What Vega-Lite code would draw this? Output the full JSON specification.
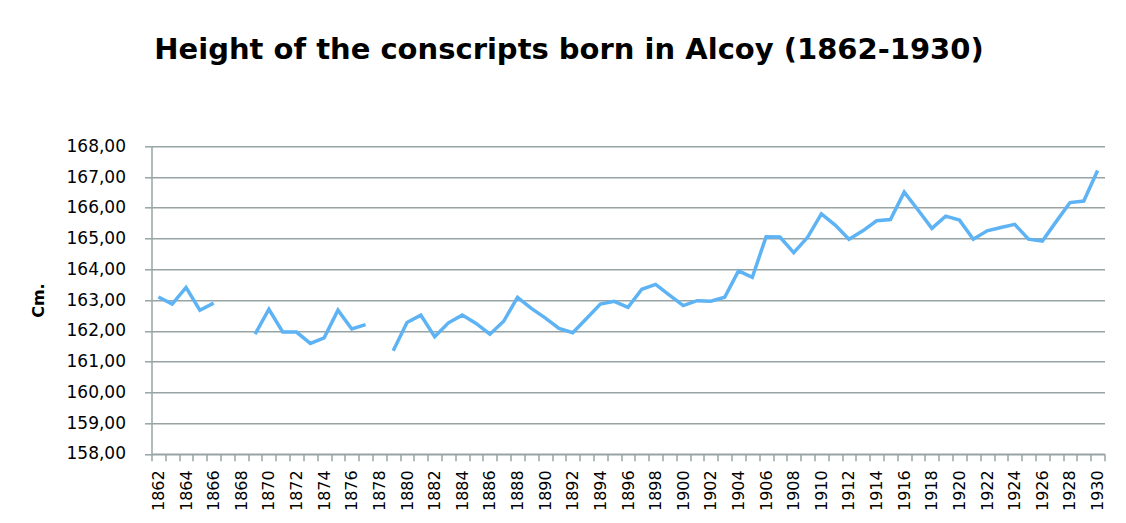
{
  "$schema": "https://vega.github.io/schema/vega-lite/v6.json",
  "autosize": "none",
  "width": 953,
  "height": 307.5,
  "padding": {"left": 151.5, "top": 146.3, "right": 21.5, "bottom": 69.2},
  "background": "white",
  "title": {
    "text": "Height of the conscripts born in Alcoy (1862-1930)",
    "font": "DejaVu Sans",
    "fontSize": 29,
    "fontWeight": "bold",
    "color": "#000000",
    "anchor": "middle",
    "frame": "group",
    "dx": -59,
    "offset": 72
  },
  "data": {
    "values": [
      {"year": 1862, "height": 163.10},
      {"year": 1863, "height": 162.87},
      {"year": 1864, "height": 163.41},
      {"year": 1865, "height": 162.67},
      {"year": 1866, "height": 162.90},
      {"year": 1867, "height": null},
      {"year": 1868, "height": null},
      {"year": 1869, "height": 161.89},
      {"year": 1870, "height": 162.70},
      {"year": 1871, "height": 161.96},
      {"year": 1872, "height": 161.96},
      {"year": 1873, "height": 161.59},
      {"year": 1874, "height": 161.77},
      {"year": 1875, "height": 162.67},
      {"year": 1876, "height": 162.06},
      {"year": 1877, "height": 162.20},
      {"year": 1878, "height": null},
      {"year": 1879, "height": 161.35},
      {"year": 1880, "height": 162.27},
      {"year": 1881, "height": 162.51},
      {"year": 1882, "height": 161.81},
      {"year": 1883, "height": 162.26},
      {"year": 1884, "height": 162.51},
      {"year": 1885, "height": 162.24},
      {"year": 1886, "height": 161.89},
      {"year": 1887, "height": 162.31},
      {"year": 1888, "height": 163.09},
      {"year": 1889, "height": 162.73},
      {"year": 1890, "height": 162.42},
      {"year": 1891, "height": 162.08},
      {"year": 1892, "height": 161.94},
      {"year": 1893, "height": 162.40},
      {"year": 1894, "height": 162.87},
      {"year": 1895, "height": 162.96},
      {"year": 1896, "height": 162.76},
      {"year": 1897, "height": 163.35},
      {"year": 1898, "height": 163.51},
      {"year": 1899, "height": 163.16},
      {"year": 1900, "height": 162.82},
      {"year": 1901, "height": 162.98},
      {"year": 1902, "height": 162.96},
      {"year": 1903, "height": 163.09},
      {"year": 1904, "height": 163.95},
      {"year": 1905, "height": 163.74},
      {"year": 1906, "height": 165.06},
      {"year": 1907, "height": 165.05},
      {"year": 1908, "height": 164.54},
      {"year": 1909, "height": 165.04},
      {"year": 1910, "height": 165.80},
      {"year": 1911, "height": 165.44},
      {"year": 1912, "height": 164.98},
      {"year": 1913, "height": 165.25},
      {"year": 1914, "height": 165.58},
      {"year": 1915, "height": 165.62},
      {"year": 1916, "height": 166.51},
      {"year": 1917, "height": 165.93},
      {"year": 1918, "height": 165.33},
      {"year": 1919, "height": 165.73},
      {"year": 1920, "height": 165.60},
      {"year": 1921, "height": 164.98},
      {"year": 1922, "height": 165.25},
      {"year": 1923, "height": 165.36},
      {"year": 1924, "height": 165.46},
      {"year": 1925, "height": 164.98},
      {"year": 1926, "height": 164.92},
      {"year": 1927, "height": 165.55},
      {"year": 1928, "height": 166.17},
      {"year": 1929, "height": 166.22},
      {"year": 1930, "height": 167.21}
    ]
  },
  "mark": {
    "type": "line",
    "color": "#5eb3f4",
    "strokeWidth": 3.5,
    "invalid": "break-paths-show-domains"
  },
  "encoding": {
    "x": {
      "field": "year",
      "type": "ordinal",
      "scale": {"type": "band", "paddingInner": 0, "paddingOuter": 0},
      "axis": {
        "title": null,
        "tickBand": "extent",
        "labelAngle": -90,
        "labelExpr": "datum.value % 2 == 0 ? datum.label : ''",
        "labelFont": "DejaVu Sans",
        "labelFontSize": 16,
        "labelColor": "#000000",
        "labelPadding": 9,
        "tickSize": 7,
        "tickColor": "#98a4a4",
        "tickWidth": 1.5,
        "domainColor": "#98a4a4",
        "domainWidth": 1.5,
        "grid": false
      }
    },
    "y": {
      "field": "height",
      "type": "quantitative",
      "scale": {"domain": [158, 168], "zero": false, "nice": false},
      "axis": {
        "title": "Cm.",
        "titleFont": "DejaVu Sans",
        "titleFontSize": 16,
        "titleFontWeight": "bold",
        "titleColor": "#000000",
        "titlePadding": 20,
        "values": [158, 159, 160, 161, 162, 163, 164, 165, 166, 167, 168],
        "labelExpr": "replace(format(datum.value, '.2f'), '.', ',')",
        "labelFont": "DejaVu Sans",
        "labelFontSize": 17,
        "labelColor": "#000000",
        "labelPadding": 19,
        "tickSize": 7,
        "tickColor": "#98a4a4",
        "tickWidth": 1.5,
        "domainColor": "#98a4a4",
        "domainWidth": 1.5,
        "grid": true,
        "gridColor": "#98a4a4",
        "gridWidth": 1.5
      }
    }
  },
  "config": {
    "view": {"stroke": null}
  }
}
